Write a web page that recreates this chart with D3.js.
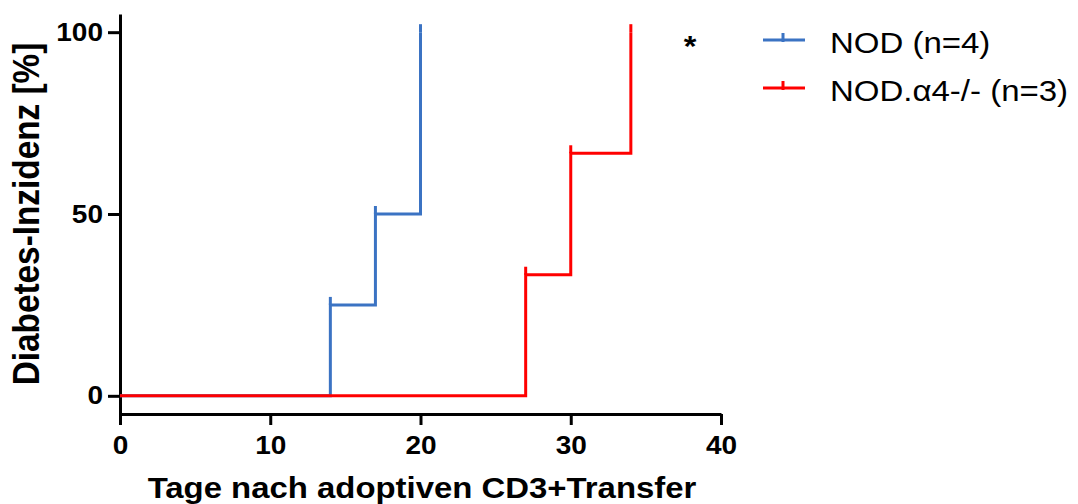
<!DOCTYPE html>
<html>
<head>
<meta charset="utf-8">
<script src="https://cdn.jsdelivr.net/npm/d3@7"></script>
<style>
  body { margin: 0; background: #fff; }
  svg { display: block; font-family: "Liberation Sans", Arial, sans-serif; }
</style>
</head>
<body>
<div id="chart"></div>
<script>
// data
const nodDays = [0, 14, 17, 20];
const nodPct = [0, 25, 50, 100];
const a4Days = [0, 27, 30, 34];
const a4Pct = [0, 33.3, 66.7, 100];
const xTicks = [0, 10, 20, 30, 40];
const yTicks = [0, 50, 100];
const seriesNames = ['NOD (n=4)', 'NOD.\u03b14-/- (n=3)'];
const seriesColors = ['#3b73c3', '#ff0000'];

const width = 1078;
const height = 504;
const sx = 1.12; // the reference is stretched sideways a little

const x = d3.scaleLinear().domain([0, 40]).range([120, 721]);
const y = d3.scaleLinear().domain([-5, 105]).range([414, 14]);

const svg = d3.select('#chart')
              .append('svg')
              .attr('width', width)
              .attr('height', height);

// axes
const yAxis = svg.append('g')
                 .attr('transform', 'translate(120,0)')
                 .call(d3.axisLeft(y).tickValues(yTicks).tickSize(12).tickSizeOuter(0).tickPadding(5));
const xAxis = svg.append('g')
                 .attr('transform', 'translate(0,414)')
                 .call(d3.axisBottom(x).tickValues(xTicks).tickSize(11).tickSizeOuter(0).tickPadding(11));

[yAxis, xAxis].forEach(ax => {
  ax.select('.domain').attr('stroke', '#000').attr('stroke-width', 3);
  ax.selectAll('.tick line').attr('stroke', '#000').attr('stroke-width', 3);
  ax.selectAll('.tick text')
    .attr('fill', '#000')
    .style('font-size', '25px')
    .style('font-weight', 'bold')
    .style('font-family', '"Liberation Sans", Arial, sans-serif');
});
yAxis.selectAll('.tick text')
     .attr('x', -17 / sx)
     .attr('transform', `scale(${sx},1)`);
xAxis.selectAll('.tick text')
     .attr('transform', `scale(${sx},1)`)
     .attr('x', 0);

// survival-style step curves
const stepLine = d3.line()
                   .x(d => x(d[0]))
                   .y(d => y(d[1]))
                   .curve(d3.curveStepAfter);

const series = [
  { days: nodDays, pct: nodPct, color: seriesColors[0] },
  { days: a4Days, pct: a4Pct, color: seriesColors[1] }
];

series.forEach(s => {
  const pts = s.days.map((d, i) => [d, s.pct[i]]);
  svg.append('path')
     .datum(pts)
     .attr('d', stepLine)
     .attr('fill', 'none')
     .attr('stroke', s.color)
     .attr('stroke-width', 3);
  // little spikes above each step
  svg.selectAll(null)
     .data(pts.slice(1))
     .enter()
     .append('line')
     .attr('x1', d => x(d[0]))
     .attr('x2', d => x(d[0]))
     .attr('y1', d => y(d[1]))
     .attr('y2', d => y(d[1]) - 8)
     .attr('stroke', s.color)
     .attr('stroke-width', 3);
});

// axis titles
svg.append('text')
   .attr('transform', `translate(422,498) scale(1.135,1)`)
   .attr('text-anchor', 'middle')
   .style('font-size', '29px')
   .style('font-weight', 'bold')
   .text('Tage nach adoptiven CD3+Transfer');

svg.append('text')
   .attr('transform', `translate(39,214) rotate(-90) scale(1.01,${sx})`)
   .attr('text-anchor', 'middle')
   .style('font-size', '33px')
   .style('font-weight', 'bold')
   .text('Diabetes-Inzidenz [%]');

// significance mark
svg.append('text')
   .attr('transform', `translate(690,56) scale(${sx},1)`)
   .attr('text-anchor', 'middle')
   .style('font-size', '29px')
   .style('font-weight', 'bold')
   .text('*');

// legend
const legend = svg.append('g');
seriesNames.forEach((name, i) => {
  const ly = 40 + i * 48;
  legend.append('line')
        .attr('x1', 763).attr('x2', 805)
        .attr('y1', ly).attr('y2', ly)
        .attr('stroke', seriesColors[i])
        .attr('stroke-width', 3);
  legend.append('line')
        .attr('x1', 783).attr('x2', 783)
        .attr('y1', ly - 7).attr('y2', ly + 2)
        .attr('stroke', seriesColors[i])
        .attr('stroke-width', 3);
  legend.append('text')
        .attr('transform', `translate(830,${ly + 13}) scale(1.1,1)`)
        .style('font-size', '30px')
        .text(name);
});
</script>
</body>
</html>
